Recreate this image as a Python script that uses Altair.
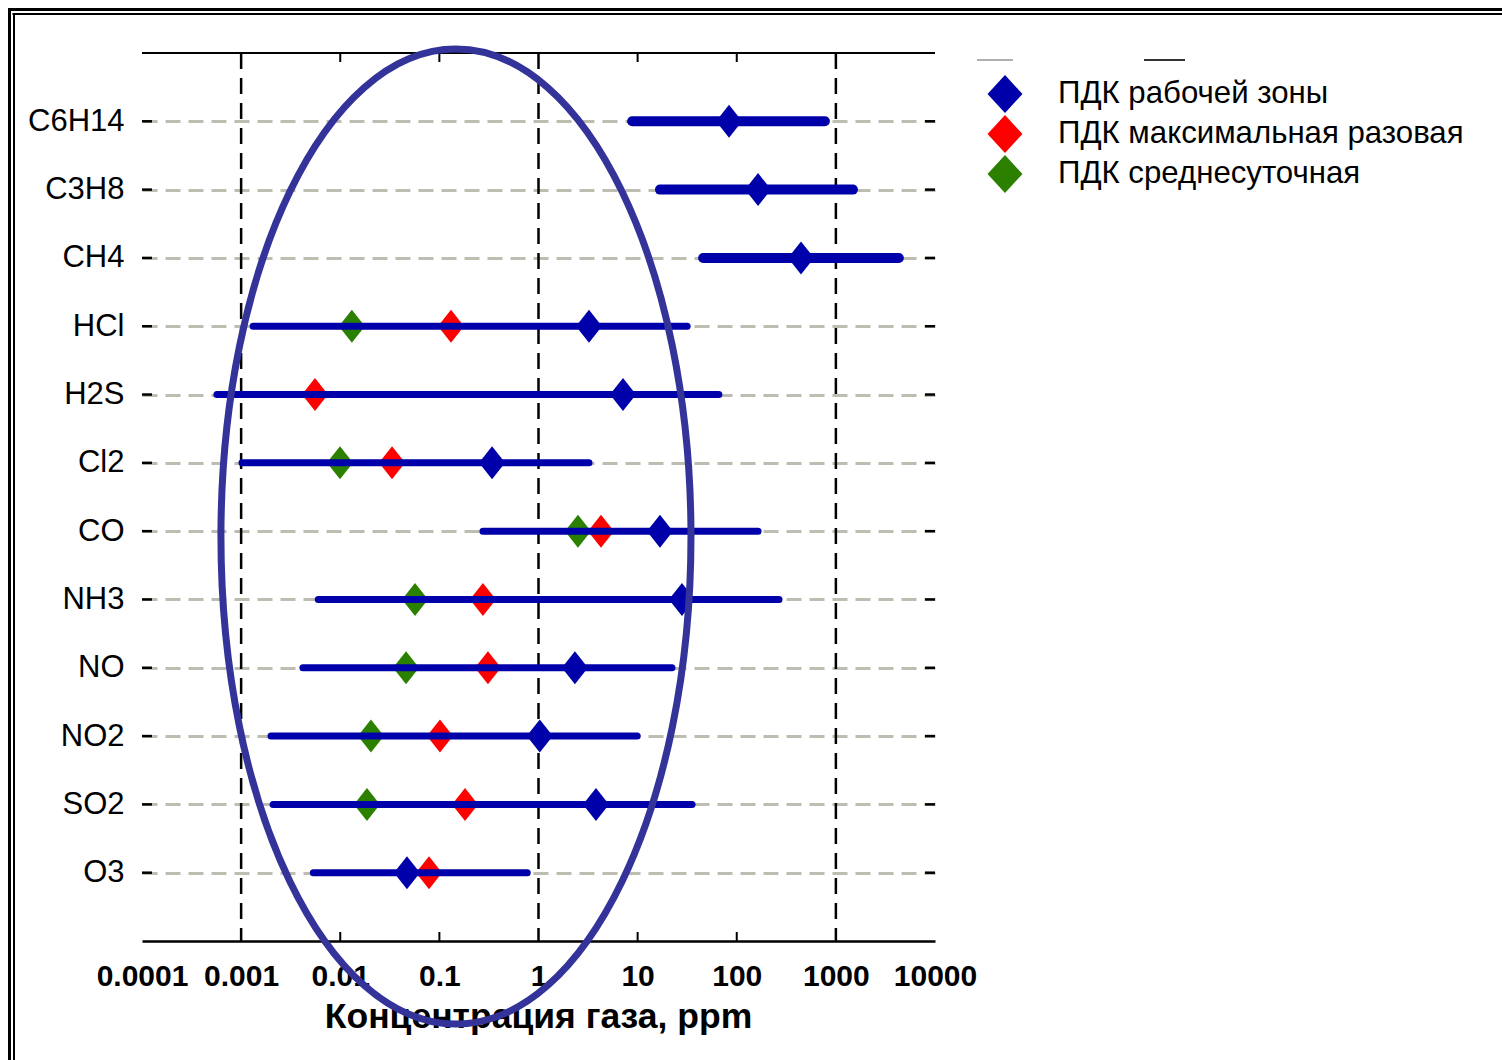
import altair as alt
import pandas as pd

# ---------------- data ----------------
gases = ["C6H14", "C3H8", "CH4", "HCl", "H2S", "Cl2", "CO", "NH3", "NO", "NO2", "SO2", "O3"]
range_low = [8.8, 16.8, 45.8, 0.00132, 0.00057, 0.00102, 0.275, 0.0060, 0.0042, 0.0020, 0.0021, 0.00535]
range_high = [775, 1485, 4320, 31.6, 66, 3.23, 164, 267, 22.2, 9.9, 35.4, 0.77]
pdk_work = [83.6, 164, 445, 3.23, 7.12, 0.340, 16.8, 28.0, 2.33, 1.03, 3.80, 0.0471]
pdk_max = [None, None, None, 0.131, 0.00556, 0.0333, 4.27, 0.275, 0.309, 0.1014, 0.1815, 0.0786]
pdk_daily = [None, None, None, 0.0131, None, 0.00994, 2.50, 0.0568, 0.0461, 0.0204, 0.0186, None]
thick_gases = ["C6H14", "C3H8", "CH4"]

series_names = ["ПДК рабочей зоны", "ПДК максимальная разовая", "ПДК среднесуточная"]
series_colors = ["#0000aa", "#ff0000", "#2b8000"]

tick_values = [0.0001, 0.001, 0.01, 0.1, 1, 10, 100, 1000, 10000]
tick_labels = ["0.0001", "0.001", "0.01", "0.1", "1", "10", "100", "1000", "10000"]
major_lines = [0.001, 1, 1000]
minor_ticks = [0.01, 0.1, 10, 100]
x_title = "Концентрация газа, ppm"

# ellipse annotation (centre in data terms)
ellipse_center_x = 0.147
ellipse_center_gas = "CO"

# ---------------- tables ----------------
lines_df = pd.DataFrame({"gas": gases, "low": range_low, "high": range_high})
thick_df = lines_df[lines_df["gas"].isin(thick_gases)]
thin_df = lines_df[~lines_df["gas"].isin(thick_gases)]

rows = []
for vals, name in [(pdk_work, series_names[0]), (pdk_daily, series_names[2]), (pdk_max, series_names[1])]:
    for g, v in zip(gases, vals):
        if v is not None:
            rows.append({"gas": g, "series": name, "value": v})
points_df = pd.DataFrame(rows)

gas_df = pd.DataFrame({"gas": gases})
major_df = pd.DataFrame({"v": major_lines})
minor_df = pd.DataFrame({"v": minor_ticks})
one = pd.DataFrame({"k": [0]})

# ---------------- layout / style ----------------
W, H = 793, 888
FONT = "Liberation Sans"

label_expr = "[" + ",".join("'" + t + "'" for t in tick_labels) + "][round(log(datum.value)/LN10)+4]"

x_scale = alt.Scale(type="log", domain=[tick_values[0], tick_values[-1]], nice=False)
y_scale = alt.Scale(type="point", domain=gases, padding=1)

x_axis = alt.Axis(
    values=tick_values, labelExpr=label_expr, grid=False, ticks=False,
    domain=True, domainColor="black", domainWidth=2.5,
    labelFont=FONT, labelFontSize=30, labelFontWeight="bold", labelColor="black",
    labelPadding=20, labelFlush=False, labelOverlap=False,
    title=x_title, titleFont=FONT, titleFontSize=35.5, titleFontWeight="bold",
    titleColor="black", titleX=396, titleY=86, titleBaseline="alphabetic",
)
y_axis = alt.Axis(
    title=None, ticks=False, domain=False, grid=True,
    gridColor="#bdbdb2", gridDash=[15, 8], gridWidth=3,
    labelFont=FONT, labelFontSize=31, labelColor="black", labelPadding=18,
)

X = lambda f: alt.X(f, type="quantitative", scale=x_scale, axis=x_axis)
Y = alt.Y("gas:N", scale=y_scale, axis=y_axis)

# outer double frame (decoration)
frame = alt.layer(
    alt.Chart(one).mark_rule(color="black", strokeWidth=3).encode(
        x=alt.value(-132.5), y=alt.value(-45), y2=alt.value(1007)),
    alt.Chart(one).mark_rule(color="black", strokeWidth=2).encode(
        x=alt.value(-128), y=alt.value(-40), y2=alt.value(1007)),
    alt.Chart(one).mark_rule(color="black", strokeWidth=3).encode(
        y=alt.value(-43.5), x=alt.value(-134), x2=alt.value(1360)),
    alt.Chart(one).mark_rule(color="black", strokeWidth=2).encode(
        y=alt.value(-39), x=alt.value(-129.5), x2=alt.value(1360)),
    alt.Chart(one).mark_rule(color="#b0b0b0", strokeWidth=2).encode(
        y=alt.value(7), x=alt.value(835), x2=alt.value(871)),
    alt.Chart(one).mark_rule(color="#333333", strokeWidth=2).encode(
        y=alt.value(7), x=alt.value(1002), x2=alt.value(1043)),
)

top_border = alt.Chart(one).mark_rule(color="black", strokeWidth=2).encode(
    y=alt.value(0), x=alt.value(0), x2=alt.value(W))

major = alt.Chart(major_df).mark_rule(color="black", strokeWidth=2.5, strokeDash=[16, 9]).encode(
    x=X("v"))

minor_bottom = alt.Chart(minor_df).mark_rule(color="black", strokeWidth=2).encode(
    x=X("v"), y=alt.value(H - 9), y2=alt.value(H))
minor_top = alt.Chart(minor_df).mark_rule(color="black", strokeWidth=2).encode(
    x=X("v"), y=alt.value(0), y2=alt.value(9))

yt_left = alt.Chart(gas_df).mark_rule(color="black", strokeWidth=2.5).encode(
    y=Y, x=alt.value(0), x2=alt.value(10))
yt_right = alt.Chart(gas_df).mark_rule(color="black", strokeWidth=2.5).encode(
    y=Y, x=alt.value(W - 10), x2=alt.value(W))

diamond_path = "M 0 -1 L 0.79 0 L 0 1 L -0.79 0 Z"
legend_path = "M 0 -1 L 0.92 0 L 0 1 L -0.92 0 Z"

diamonds = alt.Chart(points_df).mark_point(
    shape=diamond_path, filled=True, size=1089, opacity=1, strokeWidth=0
).encode(
    x=X("value"),
    y=Y,
    color=alt.Color(
        "series:N",
        scale=alt.Scale(domain=series_names, range=series_colors),
        legend=alt.Legend(
            title=None, orient="none", legendX=844, legendY=22, padding=0,
            symbolType=legend_path, symbolSize=1444, symbolStrokeWidth=0, symbolOpacity=1,
            labelFont=FONT, labelFontSize=31.2, labelColor="black", labelOffset=34,
            rowPadding=2, labelLimit=800,
        ),
    ),
)

thin_lines = alt.Chart(thin_df).mark_rule(color="#0000aa", strokeWidth=7, strokeCap="round").encode(
    x=X("low"), x2="high", y=Y)
thick_lines = alt.Chart(thick_df).mark_rule(color="#0000aa", strokeWidth=10, strokeCap="round").encode(
    x=X("low"), x2="high", y=Y)

# ellipse annotation as a custom symbol path
a, b, oy, k = 235 / 487.5, 1.0, 0.011, 0.5523
ell = (f"M {a:.4f} {oy:.4f} "
       f"C {a:.4f} {oy + k * b:.4f} {k * a:.4f} {oy + b:.4f} 0 {oy + b:.4f} "
       f"C {-k * a:.4f} {oy + b:.4f} {-a:.4f} {oy + k * b:.4f} {-a:.4f} {oy:.4f} "
       f"C {-a:.4f} {oy - k * b:.4f} {-k * a:.4f} {oy - b:.4f} 0 {oy - b:.4f} "
       f"C {k * a:.4f} {oy - b:.4f} {a:.4f} {oy - k * b:.4f} {a:.4f} {oy:.4f} Z")
ellipse = alt.Chart(one).mark_point(
    shape=ell, filled=False, size=975 ** 2, opacity=1, strokeWidth=7, color="#333399"
).encode(
    x=alt.X(datum=ellipse_center_x, type="quantitative", scale=x_scale, axis=x_axis),
    y=alt.Y(datum=ellipse_center_gas, type="nominal", scale=y_scale, axis=y_axis),
)

chart = alt.layer(
    frame, top_border, major, minor_bottom, minor_top, yt_left, yt_right,
    diamonds, thin_lines, thick_lines, ellipse,
).properties(
    width=W, height=H,
    autosize=alt.AutoSizeParams(type="none"),
    padding={"left": 142, "top": 53, "right": 567, "bottom": 119},
    background="white",
).configure_view(stroke="transparent")

chart.save("out.html", embed_options={"renderer": "svg", "actions": False})
